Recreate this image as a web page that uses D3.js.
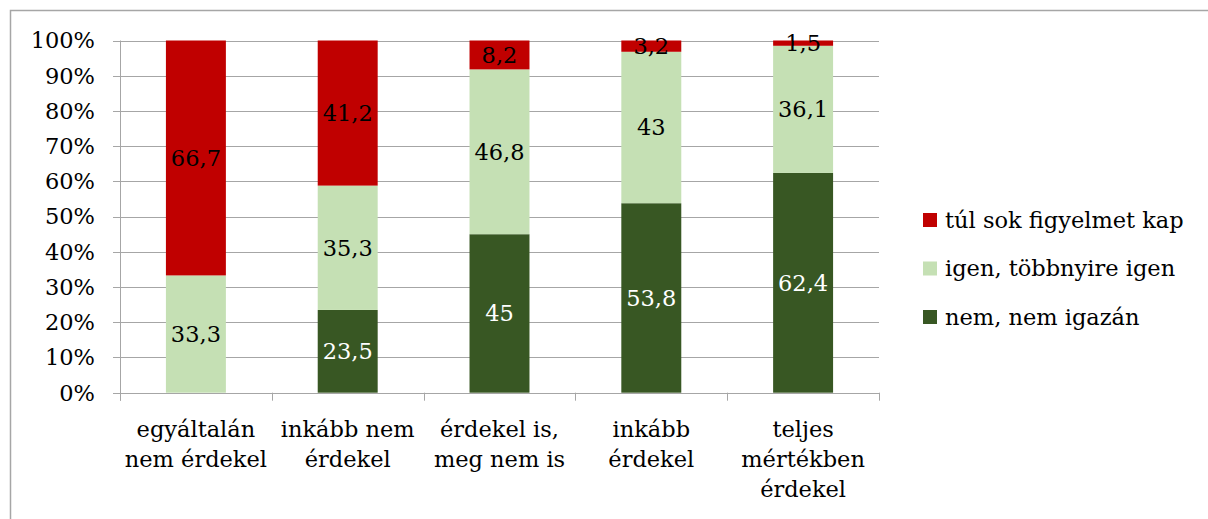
<!DOCTYPE html>
<html lang="hu">
<head>
  <meta charset="UTF-8">
  <title>Stacked bars</title>
  <script src="https://d3js.org/d3.v7.min.js"></script>
  <style>
    body { margin: 0; background: white; }
    svg { display: block; }
  </style>
</head>
<body>
  <svg id="chart"></svg>
  <script>
    // categories (x), stacked from bottom to top
    const categories = [
      ["egyáltalán", "nem érdekel"],
      ["inkább nem", "érdekel"],
      ["érdekel is,", "meg nem is"],
      ["inkább", "érdekel"],
      ["teljes", "mértékben", "érdekel"]
    ];
    const seriesNames = ["nem, nem igazán", "igen, többnyire igen", "túl sok figyelmet kap"];
    const nemValues = [0, 23.5, 45, 53.8, 62.4];
    const igenValues = [33.3, 35.3, 46.8, 43, 36.1];
    const tulSokValues = [66.7, 41.2, 8.2, 3.2, 1.5];
    const yTicks = [0, 10, 20, 30, 40, 50, 60, 70, 80, 90, 100];

    const colors = ["#385723", "#c5e0b4", "#c00000"];
    const labelColors = ["white", "black", "black"];

    const width = 1208, height = 519;
    const plot = { left: 120, right: 879, top: 40.5, bottom: 392.7 };
    const font = "'DejaVu Serif', serif";
    const fs = 22.5;

    const svg = d3.select("#chart").attr("width", width).attr("height", height)
      .attr("font-family", font);

    // outer frame
    svg.append("rect")
      .attr("x", 10.5).attr("y", 10.5)
      .attr("width", width).attr("height", height)
      .attr("fill", "none").attr("stroke", "#a6a6a6").attr("stroke-width", 1.5);

    const rows = categories.map((c, i) => ({
      idx: i, nem: nemValues[i], igen: igenValues[i], tul: tulSokValues[i]
    }));
    const stack = d3.stack().keys(["nem", "igen", "tul"])(rows);

    const x = d3.scaleBand()
      .domain(d3.range(categories.length))
      .range([plot.left, plot.right])
      .paddingInner(0.605).paddingOuter(0.3025);
    const y = d3.scaleLinear().domain([0, 100]).range([plot.bottom, plot.top]);

    // gridlines
    svg.append("g")
      .selectAll("line")
      .data(yTicks)
      .join("line")
      .attr("x1", plot.left - 7).attr("x2", plot.right)
      .attr("y1", d => Math.round(y(d)) + 0.5).attr("y2", d => Math.round(y(d)) + 0.5)
      .attr("stroke", "#a6a6a6").attr("stroke-width", 1);

    // y labels
    svg.append("g")
      .selectAll("text")
      .data(yTicks)
      .join("text")
      .attr("x", 95).attr("y", d => y(d))
      .attr("dy", "0.35em")
      .attr("text-anchor", "end")
      .attr("font-size", fs)
      .text(d => d + "%");

    // bars
    const layers = svg.append("g").selectAll("g")
      .data(stack)
      .join("g")
      .attr("fill", (d, i) => colors[i]);

    layers.selectAll("rect")
      .data(d => d)
      .join("rect")
      .attr("x", d => x(d.data.idx))
      .attr("width", x.bandwidth())
      .attr("y", d => y(d[1]))
      .attr("height", d => y(d[0]) - y(d[1]));

    // data labels
    stack.forEach((layer, li) => {
      svg.append("g").selectAll("text")
        .data(layer.filter(d => d[1] - d[0] > 0))
        .join("text")
        .attr("x", d => x(d.data.idx) + x.bandwidth() / 2)
        .attr("y", d => y((d[0] + d[1]) / 2))
        .attr("dy", "0.35em")
        .attr("text-anchor", "middle")
        .attr("font-size", fs)
        .attr("fill", labelColors[li])
        .text(d => String(+(d[1] - d[0]).toFixed(1)).replace(".", ","));
    });

    // x axis line and ticks
    svg.append("line")
      .attr("x1", plot.left).attr("x2", plot.right)
      .attr("y1", Math.round(plot.bottom) + 0.5).attr("y2", Math.round(plot.bottom) + 0.5)
      .attr("stroke", "#a6a6a6");
    svg.append("line")
      .attr("x1", plot.left + 0.5).attr("x2", plot.left + 0.5)
      .attr("y1", plot.top).attr("y2", plot.bottom + 8)
      .attr("stroke", "#a6a6a6");
    const step = x.step();
    svg.append("g").selectAll("line")
      .data(d3.range(categories.length + 1))
      .join("line")
      .attr("x1", i => Math.round(plot.left + i * step) + 0.5)
      .attr("x2", i => Math.round(plot.left + i * step) + 0.5)
      .attr("y1", plot.bottom).attr("y2", plot.bottom + 8)
      .attr("stroke", "#a6a6a6");

    // category labels
    svg.append("g").selectAll("text")
      .data(categories)
      .join("text")
      .attr("text-anchor", "middle")
      .attr("font-size", fs)
      .attr("x", (d, i) => x(i) + x.bandwidth() / 2)
      .attr("y", 437)
      .each(function (lines, i) {
        d3.select(this).selectAll("tspan")
          .data(lines)
          .join("tspan")
          .attr("x", x(i) + x.bandwidth() / 2)
          .attr("dy", (l, j) => j === 0 ? 0 : 30)
          .text(l => l);
      });

    // legend (top to bottom: reversed order)
    const legendItems = [2, 1, 0];
    const legend = svg.append("g").attr("transform", "translate(923, 220)");
    legendItems.forEach((s, k) => {
      const g = legend.append("g").attr("transform", `translate(0, ${k * 48.5})`);
      g.append("rect").attr("x", 0).attr("y", -7).attr("width", 14).attr("height", 14)
        .attr("fill", colors[s]);
      g.append("text").attr("x", 22).attr("y", 0).attr("dy", "0.35em")
        .attr("font-size", fs).text(seriesNames[s]);
    });
  </script>
</body>
</html>
